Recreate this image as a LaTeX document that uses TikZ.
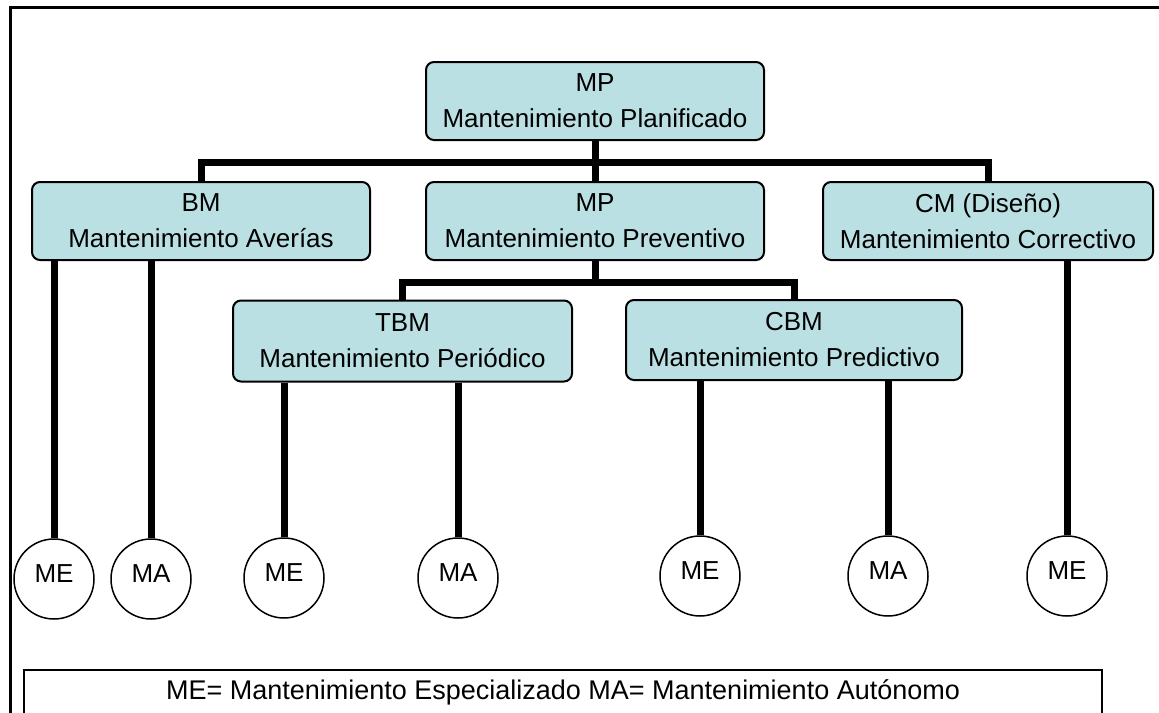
\documentclass[tikz,border=0pt]{standalone}
\usepackage{fontspec}
\setmainfont{Liberation Sans}
\definecolor{boxfill}{RGB}{187,224,227}
\begin{document}
\begin{tikzpicture}[x=1pt,y=-1pt,
  box/.style={draw=black, line width=2pt, fill=boxfill, rounded corners=8pt,
    minimum width=338pt, minimum height=78pt, align=center, inner sep=0pt,
    font=\fontsize{26}{36}\selectfont},
  leaf/.style={draw, circle, line width=1.5pt, minimum size=80pt, inner sep=0pt,
    text height=18pt, text depth=12pt, font=\fontsize{26}{30}\selectfont},
  conn/.style={line width=7pt},
  legendbox/.style={draw, line width=2pt, anchor=north, minimum width=1078pt,
    minimum height=60pt, inner sep=0pt, text height=18pt, text depth=20pt,
    font=\fontsize{27}{30}\selectfont}]
\path[use as bounding box] (0,0) rectangle (1159,712);
\clip (0,0) rectangle (1159,712);

% outer frame (top and left visible)
\draw[line width=3pt] (10,714) -- (10,7) -- (1161,7);

% boxes
\node[box] (mp) at (595,101) {MP\\Mantenimiento Planificado};
\node[box] (bm) at (201,221) {BM\\Mantenimiento Averías};
\node[box] (mpp) at (595,221) {MP\\Mantenimiento Preventivo};
\node[box, minimum width=330pt] (cm) at (988,221) {CM (Diseño)\\Mantenimiento Correctivo};
\node[box, minimum width=339pt, minimum height=81pt] (tbm) at (402.5,341) {TBM\\Mantenimiento Periódico};
\node[box, minimum width=336pt, minimum height=80pt] (cbm) at (794,340) {CBM\\Mantenimiento Predictivo};

% leaves
\node[leaf] (me1) at (54,579) {ME};
\node[leaf] (ma1) at (151,579) {MA};
\node[leaf] (me2) at (284,578) {ME};
\node[leaf] (ma2) at (458,578) {MA};
\node[leaf] (me3) at (700,576) {ME};
\node[leaf] (ma3) at (888,576) {MA};
\node[leaf] (me4) at (1067,576) {ME};

% connectors
\coordinate (bar1) at (595,162);
\coordinate (bar2) at (595,282);
\draw[conn] (mp.south) -- (bar1);
\draw[conn] (bm.north) |- (bar1) -| (cm.north);
\draw[conn] (bar1) -- (mpp.north);
\draw[conn] (mpp.south) -- (bar2);
\draw[conn] (tbm.north) |- (bar2) -| (cbm.north);

\draw[conn] (bm.south -| me1.north) -- (me1.north);
\draw[conn] (bm.south -| ma1.north) -- (ma1.north);
\draw[conn] (tbm.south -| me2.north) -- (me2.north);
\draw[conn] (tbm.south -| ma2.north) -- (ma2.north);
\draw[conn] (cbm.south -| me3.north) -- (me3.north);
\draw[conn] (cbm.south -| ma3.north) -- (ma3.north);
\draw[conn] (cm.south -| me4.north) -- (me4.north);

% legend
\node[legendbox] (legend) at (563,669) {ME= Mantenimiento Especializado MA= Mantenimiento Autónomo};
\end{tikzpicture}
\end{document}
